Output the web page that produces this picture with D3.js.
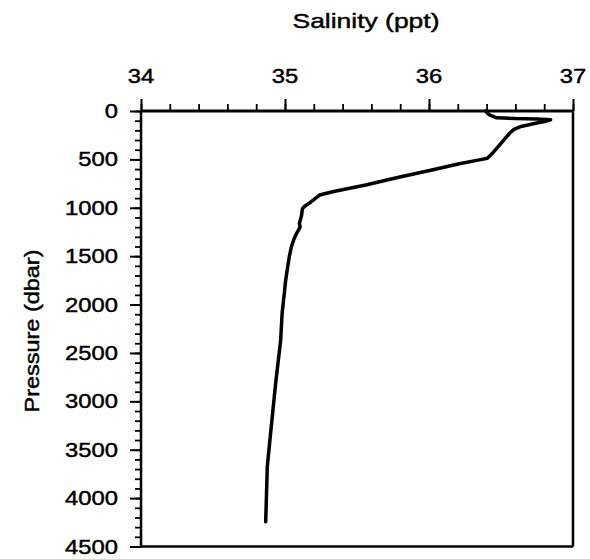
<!DOCTYPE html>
<html>
<head>
<meta charset="utf-8">
<script src="https://cdn.jsdelivr.net/npm/d3@7"></script>
<style>
  body { margin: 0; background: #fff; }
  svg { display: block; }
  text { font-family: "Liberation Sans", Arial, sans-serif; fill: #000; stroke: #000; stroke-width: 0.45px; }
</style>
</head>
<body>
<svg id="chart" width="590" height="559"></svg>
<script>
// Salinity profile (ppt) vs pressure (dbar)
const salinity = [36.39, 36.42, 36.47, 36.60, 36.75, 36.845, 36.80, 36.74, 36.64, 36.59, 36.56,
  36.50, 36.44, 36.405, 36.35, 36.21, 36.02, 35.79, 35.56, 35.33, 35.24, 35.167, 35.132, 35.12,
  35.115, 35.10, 35.105, 35.075, 35.06, 35.045, 35.03, 35.02, 35.005, 34.995, 34.98, 34.97,
  34.935, 34.90, 34.877, 34.866];
const pressure = [0, 40, 70, 78, 82, 90, 110, 127, 160, 190, 230,
  334, 437, 489, 505, 545, 610, 685, 765, 834, 868, 954, 989, 1016,
  1080, 1160, 1200, 1280, 1333, 1400, 1505, 1600, 1746, 1884, 2090, 2366,
  2814, 3330, 3675, 4244];
const xTickLabels = [34, 35, 36, 37];
const yTickLabels = [0, 500, 1000, 1500, 2000, 2500, 3000, 3500, 4000, 4500];
const xTitle = "Salinity (ppt)";
const yTitle = "Pressure (dbar)";

const svg = d3.select("#chart");
const pLeft = 141, pRight = 573, pTop = 111, pBottom = 546.5;

const x = d3.scaleLinear().domain([34, 37]).range([pLeft, pRight]);
const y = d3.scaleLinear().domain([0, 4500]).range([pTop, pBottom]);

const minorX = d3.range(34, 37.0001, 0.2).map(v => +v.toFixed(1));
const minorY = d3.range(0, 4501, 100);

// minor ticks
svg.append("g").attr("transform", `translate(0,${pTop})`)
  .call(d3.axisTop(x).tickValues(minorX).tickSize(7).tickFormat(""))
  .call(g => g.select(".domain").remove())
  .selectAll("line").attr("stroke", "#000").attr("stroke-width", 1.8);
svg.append("g").attr("transform", `translate(${pLeft},0)`)
  .call(d3.axisLeft(y).tickValues(minorY).tickSize(6).tickFormat(""))
  .call(g => g.select(".domain").remove())
  .selectAll("line").attr("stroke", "#000").attr("stroke-width", 1.8);

// major ticks
svg.append("g").attr("transform", `translate(0,${pTop})`)
  .call(d3.axisTop(x).tickValues(xTickLabels).tickSize(12).tickFormat(""))
  .call(g => g.select(".domain").remove())
  .selectAll("line").attr("stroke", "#000").attr("stroke-width", 2);
svg.append("g").attr("transform", `translate(${pLeft},0)`)
  .call(d3.axisLeft(y).tickValues(yTickLabels).tickSize(11).tickFormat(""))
  .call(g => g.select(".domain").remove())
  .selectAll("line").attr("stroke", "#000").attr("stroke-width", 2);

// frame
svg.append("line").attr("x1", pLeft).attr("x2", pRight).attr("y1", pTop).attr("y2", pTop)
  .attr("stroke", "#000").attr("stroke-width", 3);
svg.append("line").attr("x1", pLeft).attr("x2", pLeft).attr("y1", pTop).attr("y2", pBottom)
  .attr("stroke", "#000").attr("stroke-width", 2.5);
svg.append("line").attr("x1", pLeft).attr("x2", pRight).attr("y1", pBottom).attr("y2", pBottom)
  .attr("stroke", "#000").attr("stroke-width", 2.5);
svg.append("line").attr("x1", pRight).attr("x2", pRight).attr("y1", pTop).attr("y2", pBottom)
  .attr("stroke", "#000").attr("stroke-width", 2.5);

// tick labels
svg.append("g").selectAll("text").data(xTickLabels).join("text")
  .attr("transform", d => `translate(${x(d)},83) scale(1.22,1)`)
  .attr("text-anchor", "middle")
  .style("font-size", "19.5px")
  .text(d => d);
svg.append("g").selectAll("text").data(yTickLabels).join("text")
  .attr("transform", d => `translate(118,${y(d) + 7}) scale(1.22,1)`)
  .attr("text-anchor", "end")
  .style("font-size", "19.5px")
  .text(d => d);

// titles
svg.append("text")
  .attr("x", 366).attr("y", 28)
  .attr("text-anchor", "middle")
  .attr("textLength", 147).attr("lengthAdjust", "spacingAndGlyphs")
  .style("font-size", "21px")
  .text(xTitle);
svg.append("text")
  .attr("transform", "translate(39,331) rotate(-90)")
  .attr("text-anchor", "middle")
  .attr("textLength", 163).attr("lengthAdjust", "spacingAndGlyphs")
  .style("font-size", "20px")
  .text(yTitle);

// profile line
const pts = salinity.map((s, i) => [s, pressure[i]]);
svg.append("path")
  .datum(pts)
  .attr("fill", "none")
  .attr("stroke", "#000")
  .attr("stroke-width", 3.5)
  .attr("stroke-linejoin", "round")
  .attr("stroke-linecap", "round")
  .attr("d", d3.line().x(d => x(d[0])).y(d => y(d[1])));
</script>
</body>
</html>
